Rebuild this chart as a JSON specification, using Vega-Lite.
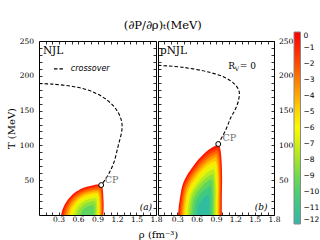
{
 "$schema": "https://vega.github.io/schema/vega-lite/v6.json",
 "padding": {"left": 5, "top": 19, "right": 0, "bottom": 0},
 "title": {"text": "(∂P/∂ρ)ₜ(MeV)", "font": "DejaVu Serif", "fontSize": 11.5, "fontWeight": "normal", "anchor": "middle", "offset": 1, "color": "black"},
 "spacing": 2,
 "bounds": "flush",
 "datasets": {
  "regA": [
   {"k":0,"v":-0.5,"t":0,"l":0.34,"h":0.99},{"k":0,"v":-0.5,"t":14,"l":0.39,"h":0.995},{"k":0,"v":-0.5,"t":26,"l":0.48,"h":0.99},{"k":0,"v":-0.5,"t":34,"l":0.58,"h":0.985},{"k":0,"v":-0.5,"t":40,"l":0.71,"h":0.975},{"k":0,"v":-0.5,"t":44,"l":0.88,"h":0.955},
   {"k":1,"v":-1.5,"t":0,"l":0.363,"h":0.979},{"k":1,"v":-1.5,"t":13.3,"l":0.41,"h":0.984},{"k":1,"v":-1.5,"t":24.7,"l":0.495,"h":0.979},{"k":1,"v":-1.5,"t":32.3,"l":0.59,"h":0.974},{"k":1,"v":-1.5,"t":37.9,"l":0.714,"h":0.965},{"k":1,"v":-1.5,"t":41.7,"l":0.875,"h":0.946},
   {"k":2,"v":-2.5,"t":0,"l":0.386,"h":0.968},{"k":2,"v":-2.5,"t":12.5,"l":0.431,"h":0.972},{"k":2,"v":-2.5,"t":23.3,"l":0.512,"h":0.968},{"k":2,"v":-2.5,"t":30.4,"l":0.601,"h":0.963},{"k":2,"v":-2.5,"t":35.8,"l":0.717,"h":0.954},{"k":2,"v":-2.5,"t":39.4,"l":0.869,"h":0.937},
   {"k":3,"v":-3.5,"t":0,"l":0.412,"h":0.956},{"k":3,"v":-3.5,"t":11.7,"l":0.454,"h":0.96},{"k":3,"v":-3.5,"t":21.8,"l":0.529,"h":0.956},{"k":3,"v":-3.5,"t":28.4,"l":0.613,"h":0.952},{"k":3,"v":-3.5,"t":33.5,"l":0.721,"h":0.943},{"k":3,"v":-3.5,"t":36.8,"l":0.864,"h":0.926},
   {"k":4,"v":-4.5,"t":0,"l":0.439,"h":0.943},{"k":4,"v":-4.5,"t":10.8,"l":0.478,"h":0.947},{"k":4,"v":-4.5,"t":20.1,"l":0.548,"h":0.943},{"k":4,"v":-4.5,"t":26.3,"l":0.625,"h":0.939},{"k":4,"v":-4.5,"t":31,"l":0.726,"h":0.931},{"k":4,"v":-4.5,"t":34.1,"l":0.857,"h":0.916},
   {"k":5,"v":-5.5,"t":0,"l":0.469,"h":0.929},{"k":5,"v":-5.5,"t":9.9,"l":0.504,"h":0.932},{"k":5,"v":-5.5,"t":18.4,"l":0.568,"h":0.929},{"k":5,"v":-5.5,"t":24,"l":0.639,"h":0.925},{"k":5,"v":-5.5,"t":28.3,"l":0.731,"h":0.918},{"k":5,"v":-5.5,"t":31.1,"l":0.851,"h":0.904},
   {"k":6,"v":-6.5,"t":0,"l":0.502,"h":0.913},{"k":6,"v":-6.5,"t":8.9,"l":0.533,"h":0.916},{"k":6,"v":-6.5,"t":16.4,"l":0.59,"h":0.913},{"k":6,"v":-6.5,"t":21.5,"l":0.654,"h":0.91},{"k":6,"v":-6.5,"t":25.3,"l":0.736,"h":0.903},{"k":6,"v":-6.5,"t":27.8,"l":0.843,"h":0.891},
   {"k":7,"v":-7.5,"t":0,"l":0.539,"h":0.895},{"k":7,"v":-7.5,"t":7.7,"l":0.566,"h":0.898},{"k":7,"v":-7.5,"t":14.2,"l":0.616,"h":0.895},{"k":7,"v":-7.5,"t":18.6,"l":0.67,"h":0.892},{"k":7,"v":-7.5,"t":21.9,"l":0.742,"h":0.887},{"k":7,"v":-7.5,"t":24.1,"l":0.835,"h":0.876},
   {"k":8,"v":-8.5,"t":0,"l":0.583,"h":0.874},{"k":8,"v":-8.5,"t":6.3,"l":0.606,"h":0.876},{"k":8,"v":-8.5,"t":11.6,"l":0.646,"h":0.874},{"k":8,"v":-8.5,"t":15.2,"l":0.691,"h":0.872},{"k":8,"v":-8.5,"t":17.9,"l":0.749,"h":0.867},{"k":8,"v":-8.5,"t":19.7,"l":0.825,"h":0.858},
   {"k":9,"v":-9.5,"t":0,"l":0.641,"h":0.846},{"k":9,"v":-9.5,"t":4.4,"l":0.657,"h":0.848},{"k":9,"v":-9.5,"t":8.2,"l":0.685,"h":0.846},{"k":9,"v":-9.5,"t":10.8,"l":0.717,"h":0.845},{"k":9,"v":-9.5,"t":12.6,"l":0.758,"h":0.842},{"k":9,"v":-9.5,"t":13.9,"l":0.812,"h":0.835}
  ],
  "regB": [
   {"k":0,"v":-0.5,"t":0,"l":0.31,"h":0.99},{"k":0,"v":-0.5,"t":24,"l":0.34,"h":0.99},{"k":0,"v":-0.5,"t":48,"l":0.4,"h":0.995},{"k":0,"v":-0.5,"t":72,"l":0.56,"h":0.99},{"k":0,"v":-0.5,"t":86,"l":0.69,"h":0.98},{"k":0,"v":-0.5,"t":96,"l":0.82,"h":0.965},{"k":0,"v":-0.5,"t":101,"l":0.92,"h":0.945},
   {"k":1,"v":-1.5,"t":0,"l":0.327,"h":0.978},{"k":1,"v":-1.5,"t":23,"l":0.356,"h":0.978},{"k":1,"v":-1.5,"t":46,"l":0.414,"h":0.983},{"k":1,"v":-1.5,"t":68.9,"l":0.567,"h":0.978},{"k":1,"v":-1.5,"t":82.3,"l":0.691,"h":0.969},{"k":1,"v":-1.5,"t":91.9,"l":0.816,"h":0.955},{"k":1,"v":-1.5,"t":96.7,"l":0.911,"h":0.935},
   {"k":2,"v":-2.5,"t":0,"l":0.346,"h":0.966},{"k":2,"v":-2.5,"t":21.9,"l":0.373,"h":0.966},{"k":2,"v":-2.5,"t":43.8,"l":0.428,"h":0.971},{"k":2,"v":-2.5,"t":65.7,"l":0.574,"h":0.966},{"k":2,"v":-2.5,"t":78.5,"l":0.693,"h":0.957},{"k":2,"v":-2.5,"t":87.6,"l":0.811,"h":0.944},{"k":2,"v":-2.5,"t":92.2,"l":0.903,"h":0.925},
   {"k":3,"v":-3.5,"t":0,"l":0.365,"h":0.954},{"k":3,"v":-3.5,"t":20.8,"l":0.391,"h":0.954},{"k":3,"v":-3.5,"t":41.6,"l":0.443,"h":0.958},{"k":3,"v":-3.5,"t":62.4,"l":0.581,"h":0.954},{"k":3,"v":-3.5,"t":74.5,"l":0.694,"h":0.945},{"k":3,"v":-3.5,"t":83.1,"l":0.807,"h":0.932},{"k":3,"v":-3.5,"t":87.5,"l":0.893,"h":0.915},
   {"k":4,"v":-4.5,"t":0,"l":0.385,"h":0.94},{"k":4,"v":-4.5,"t":19.6,"l":0.41,"h":0.94},{"k":4,"v":-4.5,"t":39.2,"l":0.459,"h":0.945},{"k":4,"v":-4.5,"t":58.8,"l":0.589,"h":0.94},{"k":4,"v":-4.5,"t":70.2,"l":0.696,"h":0.932},{"k":4,"v":-4.5,"t":78.4,"l":0.802,"h":0.92},{"k":4,"v":-4.5,"t":82.5,"l":0.883,"h":0.904},
   {"k":5,"v":-5.5,"t":0,"l":0.407,"h":0.926},{"k":5,"v":-5.5,"t":18.3,"l":0.43,"h":0.926},{"k":5,"v":-5.5,"t":36.7,"l":0.476,"h":0.93},{"k":5,"v":-5.5,"t":55,"l":0.598,"h":0.926},{"k":5,"v":-5.5,"t":65.7,"l":0.697,"h":0.919},{"k":5,"v":-5.5,"t":73.3,"l":0.796,"h":0.907},{"k":5,"v":-5.5,"t":77.1,"l":0.873,"h":0.892},
   {"k":6,"v":-6.5,"t":0,"l":0.43,"h":0.911},{"k":6,"v":-6.5,"t":17,"l":0.451,"h":0.911},{"k":6,"v":-6.5,"t":33.9,"l":0.494,"h":0.915},{"k":6,"v":-6.5,"t":50.9,"l":0.607,"h":0.911},{"k":6,"v":-6.5,"t":60.8,"l":0.699,"h":0.904},{"k":6,"v":-6.5,"t":67.9,"l":0.791,"h":0.893},{"k":6,"v":-6.5,"t":71.4,"l":0.861,"h":0.879},
   {"k":7,"v":-7.5,"t":0,"l":0.455,"h":0.894},{"k":7,"v":-7.5,"t":15.5,"l":0.475,"h":0.894},{"k":7,"v":-7.5,"t":31,"l":0.513,"h":0.898},{"k":7,"v":-7.5,"t":46.5,"l":0.617,"h":0.894},{"k":7,"v":-7.5,"t":55.5,"l":0.701,"h":0.888},{"k":7,"v":-7.5,"t":62,"l":0.785,"h":0.878},{"k":7,"v":-7.5,"t":65.2,"l":0.849,"h":0.865},
   {"k":8,"v":-8.5,"t":0,"l":0.483,"h":0.876},{"k":8,"v":-8.5,"t":13.9,"l":0.501,"h":0.876},{"k":8,"v":-8.5,"t":27.7,"l":0.535,"h":0.879},{"k":8,"v":-8.5,"t":41.6,"l":0.628,"h":0.876},{"k":8,"v":-8.5,"t":49.7,"l":0.703,"h":0.87},{"k":8,"v":-8.5,"t":55.4,"l":0.778,"h":0.861},{"k":8,"v":-8.5,"t":58.3,"l":0.835,"h":0.85},
   {"k":9,"v":-9.5,"t":0,"l":0.515,"h":0.855},{"k":9,"v":-9.5,"t":12,"l":0.53,"h":0.855},{"k":9,"v":-9.5,"t":24,"l":0.56,"h":0.858},{"k":9,"v":-9.5,"t":36,"l":0.64,"h":0.855},{"k":9,"v":-9.5,"t":43,"l":0.705,"h":0.85},{"k":9,"v":-9.5,"t":48,"l":0.77,"h":0.843},{"k":9,"v":-9.5,"t":50.5,"l":0.82,"h":0.833},
   {"k":10,"v":-10.5,"t":0,"l":0.553,"h":0.83},{"k":10,"v":-10.5,"t":9.8,"l":0.565,"h":0.83},{"k":10,"v":-10.5,"t":19.6,"l":0.589,"h":0.832},{"k":10,"v":-10.5,"t":29.4,"l":0.655,"h":0.83},{"k":10,"v":-10.5,"t":35.1,"l":0.708,"h":0.826},{"k":10,"v":-10.5,"t":39.2,"l":0.761,"h":0.82},{"k":10,"v":-10.5,"t":41.2,"l":0.802,"h":0.812},
   {"k":11,"v":-11.5,"t":0,"l":0.602,"h":0.798},{"k":11,"v":-11.5,"t":6.9,"l":0.61,"h":0.798},{"k":11,"v":-11.5,"t":13.9,"l":0.628,"h":0.799},{"k":11,"v":-11.5,"t":20.8,"l":0.674,"h":0.798},{"k":11,"v":-11.5,"t":24.8,"l":0.711,"h":0.795},{"k":11,"v":-11.5,"t":27.7,"l":0.749,"h":0.791},{"k":11,"v":-11.5,"t":29.2,"l":0.778,"h":0.785}
  ],
  "crA": [
   {"r":0,"t":189},{"r":0.2,"t":188},{"r":0.5,"t":185},{"r":0.8,"t":178},{"r":1.05,"t":165},{"r":1.2,"t":150},{"r":1.27,"t":135},{"r":1.275,"t":122},{"r":1.22,"t":100},{"r":1.15,"t":75},{"r":1.06,"t":57},{"r":0.957,"t":43}
  ],
  "crB": [
   {"r":0,"t":215},{"r":0.4,"t":212},{"r":0.8,"t":205},{"r":1.05,"t":197},{"r":1.2,"t":187},{"r":1.26,"t":177},{"r":1.25,"t":165},{"r":1.2,"t":152},{"r":1.13,"t":140},{"r":1.05,"t":122},{"r":0.935,"t":102}
  ]
 },
 "hconcat": [
  {
   "width": 117, "height": 174,
   "layer": [
    {
     "data": {"name": "regA"},
     "mark": {"type": "area", "orient": "horizontal", "interpolate": "monotone"},
     "encoding": {
      "y": {"field": "t", "type": "quantitative", "scale": {"domain": [0, 250], "nice": false, "zero": false},
            "axis": {"orient": "left", "values": [10,20,30,40,50,60,70,80,90,100,110,120,130,140,150,160,170,180,190,200,210,220,230,240,250], "labelExpr": "datum.value % 50 == 0 ? datum.label : ''", "title": "T (MeV)", "labelPadding": 8.5, "titlePadding": 3}},
      "x": {"field": "l", "type": "quantitative", "scale": {"domain": [0, 1.8], "nice": false, "zero": false},
            "axis": {"orient": "bottom", "values": [0.1,0.2,0.3,0.4,0.5,0.6,0.7,0.8,0.9,1.0,1.1,1.2,1.3,1.4,1.5,1.6,1.7,1.8], "format": ".1f", "labelExpr": "round(datum.value*10) % 3 == 0 ? datum.label : ''", "title": "ρ (fm⁻³)", "titleX": 119, "titleY": 22, "titleBaseline": "alphabetic", "titleAlign": "center", "labelPadding": 3}},
      "x2": {"field": "h"},
      "color": {"field": "v", "type": "quantitative",
                "scale": {"domain": [-12,-11,-10,-9,-8,-7,-6,-5,-4,-3,-2,-1,0], "range": ["#38b4aa","#3cc48e","#4ccf70","#72da4c","#a2e52a","#d2ef12","#fafa00","#ffd800","#ffaa00","#ff7c00","#ff4c00","#ff2200","#ff0000"]},
                "legend": {"title": null, "orient": "none", "legendX": 255, "legendY": -9, "direction": "vertical", "gradientLength": 192, "gradientThickness": 6.5, "values": [0,-1,-2,-3,-4,-5,-6,-7,-8,-9,-10,-11,-12], "labelFont": "DejaVu Sans", "labelFontSize": 7.5, "labelOffset": 3, "labelOverlap": false, "gradientStrokeColor": "#888", "gradientStrokeWidth": 1}},
      "detail": {"field": "k"}
     }
    },
    {
     "data": {"name": "crA"},
     "mark": {"type": "line", "color": "black", "strokeWidth": 1.1, "strokeDash": [3.5, 2], "interpolate": "catmull-rom"},
     "encoding": {
      "x": {"field": "r", "type": "quantitative", "scale": {"domain": [0, 1.8], "nice": false, "zero": false},
            "axis": {"orient": "top", "values": [0.1,0.2,0.3,0.4,0.5,0.6,0.7,0.8,0.9,1.0,1.1,1.2,1.3,1.4,1.5,1.6,1.7], "labels": false, "title": null}},
      "y": {"field": "t", "type": "quantitative", "scale": {"domain": [0, 250], "nice": false, "zero": false},
            "axis": {"orient": "right", "values": [10,20,30,40,50,60,70,80,90,100,110,120,130,140,150,160,170,180,190,200,210,220,230,240], "labels": false, "title": null}},
      "order": {"field": "t", "sort": "descending"}
     }
    },
    {
     "data": {"values": [{"r": 0.957, "t": 43}]},
     "mark": {"type": "point", "filled": true, "fill": "white", "stroke": "black", "strokeWidth": 1, "size": 24, "opacity": 1},
     "encoding": {"x": {"field": "r", "type": "quantitative", "axis": null}, "y": {"field": "t", "type": "quantitative", "axis": null}}
    },
    {
     "data": {"values": [{"r": 1.01, "t": 50, "s": "CP"}]},
     "mark": {"type": "text", "align": "left", "baseline": "middle", "font": "DejaVu Serif", "fontSize": 9.5, "color": "#707070"},
     "encoding": {"x": {"field": "r", "type": "quantitative", "axis": null}, "y": {"field": "t", "type": "quantitative", "axis": null}, "text": {"field": "s"}}
    },
    {
     "data": {"values": [{"r": 0.06, "t": 235, "s": "NJL"}]},
     "mark": {"type": "text", "align": "left", "baseline": "middle", "font": "DejaVu Serif", "fontSize": 10.5, "color": "black"},
     "encoding": {"x": {"field": "r", "type": "quantitative", "axis": null}, "y": {"field": "t", "type": "quantitative", "axis": null}, "text": {"field": "s"}}
    },
    {
     "data": {"values": [{"r": 0.23, "r2": 0.39, "t": 210}]},
     "mark": {"type": "rule", "color": "black", "strokeWidth": 1.1, "strokeDash": [3.5, 2]},
     "encoding": {"x": {"field": "r", "type": "quantitative", "axis": null}, "x2": {"field": "r2"}, "y": {"field": "t", "type": "quantitative", "axis": null}}
    },
    {
     "data": {"values": [{"r": 0.49, "t": 210, "s": "crossover"}]},
     "mark": {"type": "text", "align": "left", "baseline": "middle", "font": "DejaVu Sans", "fontStyle": "italic", "fontSize": 8, "color": "black"},
     "encoding": {"x": {"field": "r", "type": "quantitative", "axis": null}, "y": {"field": "t", "type": "quantitative", "axis": null}, "text": {"field": "s"}}
    },
    {
     "data": {"values": [{"r": 1.74, "t": 11, "s": "(a)"}]},
     "mark": {"type": "text", "align": "right", "baseline": "middle", "font": "DejaVu Serif", "fontStyle": "italic", "fontSize": 9, "color": "black"},
     "encoding": {"x": {"field": "r", "type": "quantitative", "axis": null}, "y": {"field": "t", "type": "quantitative", "axis": null}, "text": {"field": "s"}}
    }
   ]
  },
  {
   "width": 116, "height": 174,
   "layer": [
    {
     "data": {"name": "regB"},
     "mark": {"type": "area", "orient": "horizontal", "interpolate": "monotone"},
     "encoding": {
      "y": {"field": "t", "type": "quantitative", "scale": {"domain": [0, 250], "nice": false, "zero": false},
            "axis": {"orient": "right", "values": [10,20,30,40,50,60,70,80,90,100,110,120,130,140,150,160,170,180,190,200,210,220,230,240,250], "labelExpr": "datum.value % 50 == 0 ? datum.label : ''", "title": null, "labelPadding": 7.5}},
      "x": {"field": "l", "type": "quantitative", "scale": {"domain": [0, 1.8], "nice": false, "zero": false},
            "axis": {"orient": "bottom", "values": [0.1,0.2,0.3,0.4,0.5,0.6,0.7,0.8,0.9,1.0,1.1,1.2,1.3,1.4,1.5,1.6,1.7,1.8], "format": ".1f", "labelExpr": "round(datum.value*10) % 3 == 0 ? datum.label : ''", "title": null, "labelPadding": 3}},
      "x2": {"field": "h"},
      "color": {"field": "v", "type": "quantitative",
                "scale": {"domain": [-12,-11,-10,-9,-8,-7,-6,-5,-4,-3,-2,-1,0], "range": ["#38b4aa","#3cc48e","#4ccf70","#72da4c","#a2e52a","#d2ef12","#fafa00","#ffd800","#ffaa00","#ff7c00","#ff4c00","#ff2200","#ff0000"]},
                "legend": {"title": null, "orient": "none", "legendX": 255, "legendY": -9, "direction": "vertical", "gradientLength": 192, "gradientThickness": 6.5, "values": [0,-1,-2,-3,-4,-5,-6,-7,-8,-9,-10,-11,-12], "labelFont": "DejaVu Sans", "labelFontSize": 7.5, "labelOffset": 3, "labelOverlap": false, "gradientStrokeColor": "#888", "gradientStrokeWidth": 1}},
      "detail": {"field": "k"}
     }
    },
    {
     "data": {"name": "crB"},
     "mark": {"type": "line", "color": "black", "strokeWidth": 1.1, "strokeDash": [3.5, 2], "interpolate": "catmull-rom"},
     "encoding": {
      "x": {"field": "r", "type": "quantitative", "scale": {"domain": [0, 1.8], "nice": false, "zero": false},
            "axis": {"orient": "top", "values": [0.1,0.2,0.3,0.4,0.5,0.6,0.7,0.8,0.9,1.0,1.1,1.2,1.3,1.4,1.5,1.6,1.7], "labels": false, "title": null}},
      "y": {"field": "t", "type": "quantitative", "scale": {"domain": [0, 250], "nice": false, "zero": false},
            "axis": {"orient": "left", "values": [10,20,30,40,50,60,70,80,90,100,110,120,130,140,150,160,170,180,190,200,210,220,230,240], "labels": false, "title": null}},
      "order": {"field": "t", "sort": "descending"}
     }
    },
    {
     "data": {"values": [{"r": 0.935, "t": 102}]},
     "mark": {"type": "point", "filled": true, "fill": "white", "stroke": "black", "strokeWidth": 1, "size": 24, "opacity": 1},
     "encoding": {"x": {"field": "r", "type": "quantitative", "axis": null}, "y": {"field": "t", "type": "quantitative", "axis": null}}
    },
    {
     "data": {"values": [{"r": 1.0, "t": 110, "s": "CP"}]},
     "mark": {"type": "text", "align": "left", "baseline": "middle", "font": "DejaVu Serif", "fontSize": 9.5, "color": "#707070"},
     "encoding": {"x": {"field": "r", "type": "quantitative", "axis": null}, "y": {"field": "t", "type": "quantitative", "axis": null}, "text": {"field": "s"}}
    },
    {
     "data": {"values": [{"r": 0.03, "t": 235, "s": "pNJL"}]},
     "mark": {"type": "text", "align": "left", "baseline": "middle", "font": "DejaVu Serif", "fontSize": 10.5, "color": "black"},
     "encoding": {"x": {"field": "r", "type": "quantitative", "axis": null}, "y": {"field": "t", "type": "quantitative", "axis": null}, "text": {"field": "s"}}
    },
    {
     "data": {"values": [{"r": 1.09, "t": 213.5, "s": "R"}]},
     "mark": {"type": "text", "align": "left", "baseline": "middle", "font": "DejaVu Serif", "fontSize": 9, "color": "black"},
     "encoding": {"x": {"field": "r", "type": "quantitative", "axis": null}, "y": {"field": "t", "type": "quantitative", "axis": null}, "text": {"field": "s"}}
    },
    {
     "data": {"values": [{"r": 1.09, "t": 213.5, "s": "V"}]},
     "mark": {"type": "text", "align": "left", "baseline": "middle", "font": "DejaVu Serif", "fontSize": 6, "color": "black", "dx": 6.5, "dy": 2.5},
     "encoding": {"x": {"field": "r", "type": "quantitative", "axis": null}, "y": {"field": "t", "type": "quantitative", "axis": null}, "text": {"field": "s"}}
    },
    {
     "data": {"values": [{"r": 1.09, "t": 213.5, "s": "= 0"}]},
     "mark": {"type": "text", "align": "left", "baseline": "middle", "font": "DejaVu Serif", "fontSize": 9, "color": "black", "dx": 11.5},
     "encoding": {"x": {"field": "r", "type": "quantitative", "axis": null}, "y": {"field": "t", "type": "quantitative", "axis": null}, "text": {"field": "s"}}
    },
    {
     "data": {"values": [{"r": 1.7, "t": 12, "s": "(b)"}]},
     "mark": {"type": "text", "align": "right", "baseline": "middle", "font": "DejaVu Serif", "fontStyle": "italic", "fontSize": 9, "color": "black"},
     "encoding": {"x": {"field": "r", "type": "quantitative", "axis": null}, "y": {"field": "t", "type": "quantitative", "axis": null}, "text": {"field": "s"}}
    }
   ]
  }
 ],
 "config": {
  "font": "DejaVu Serif",
  "view": {"stroke": "black", "strokeWidth": 1},
  "axis": {"domain": false, "grid": false, "ticks": true, "tickColor": "black", "tickSize": -3, "tickWidth": 0.8,
           "labelFont": "DejaVu Serif", "labelFontSize": 7.5, "labelColor": "black", "labelOverlap": false, "labelFlush": false, "labelBound": false,
           "titleFont": "DejaVu Serif", "titleFontSize": 10, "titleFontWeight": "normal", "titleColor": "black"}
 }
}
